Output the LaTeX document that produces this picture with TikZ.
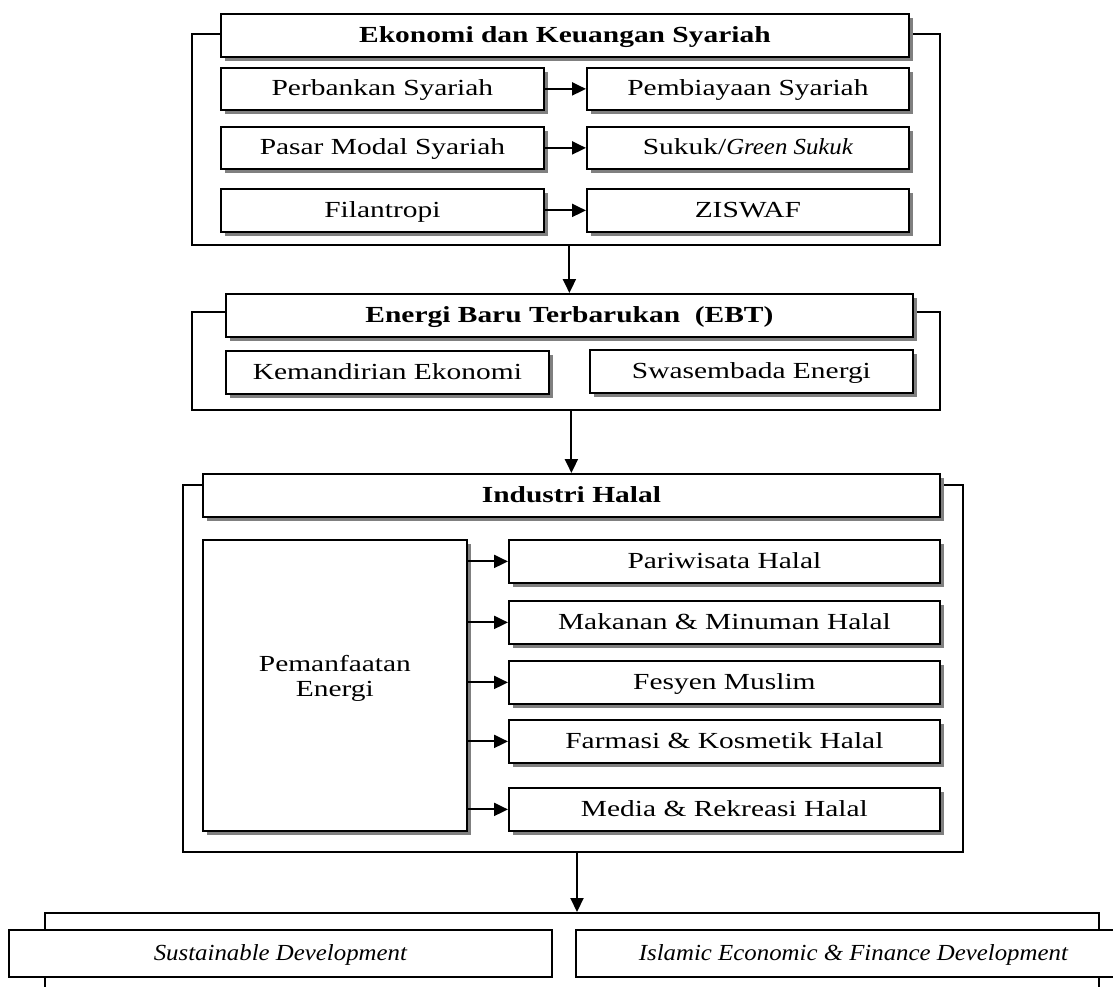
\documentclass[tikz,border=0pt]{standalone}
\usepackage{fontspec}
\setmainfont{Liberation Serif}[FakeStretch=1.28]
\newfontfamily\itfont{Liberation Serif}[FakeStretch=1.08]
\usetikzlibrary{arrows.meta,shadows}
\definecolor{shadowgray}{HTML}{808080}
\begin{document}
\begin{tikzpicture}[x=1pt,y=-1pt,
  box/.style={draw, line width=1.8pt, fill=white, rectangle, inner sep=0pt,
    anchor=north west, font=\fontsize{23}{25}\selectfont, align=center,
    text height=17pt, text depth=3pt,
    drop shadow={shadow xshift=4pt, shadow yshift=-4pt, fill=shadowgray, opacity=1}},
  titlebox/.style={box, font=\fontsize{23}{25}\selectfont\bfseries},
  bigbox/.style={box, text height=, text depth=},
  plainbox/.style={draw, line width=1.8pt, fill=white, rectangle, inner sep=0pt,
    anchor=north west, font=\fontsize{23}{25}\selectfont\itfont\itshape,
    text height=17pt, text depth=3pt},
  frame/.style={draw, line width=2pt, rectangle, inner sep=0pt, anchor=north west},
  arr/.style={line width=2pt, -{Triangle[length=14pt,width=13pt]}}
]
\useasboundingbox (0,0) rectangle (1113,986);
\clip (0,0) rectangle (1113,986);

% ---------- Block 1 ----------
\node[frame, minimum width=748pt, minimum height=211pt] (f1) at (191,33) {};
\node[titlebox, minimum width=688pt, minimum height=43pt] (t1) at (220,13) {Ekonomi dan Keuangan Syariah};
\node[box, minimum width=323pt, minimum height=42pt] (a1) at (220,67) {Perbankan Syariah};
\node[box, minimum width=322pt, minimum height=42pt] (b1) at (586,67) {Pembiayaan Syariah};
\node[box, minimum width=323pt, minimum height=42pt] (a2) at (220,126) {Pasar Modal Syariah};
\node[box, minimum width=322pt, minimum height=42pt] (b2) at (586,126) {Sukuk/{\itfont\itshape Green Sukuk}};
\node[box, minimum width=323pt, minimum height=43pt] (a3) at (220,188) {Filantropi};
\node[box, minimum width=322pt, minimum height=43pt] (b3) at (586,188) {ZISWAF};
\draw[arr] (a1.east) -- (a1.east -| b1.west);
\draw[arr] (a2.east) -- (a2.east -| b2.west);
\draw[arr] (a3.east) -- (a3.east -| b3.west);

% ---------- Block 2 ----------
\node[frame, minimum width=748pt, minimum height=98pt] (f2) at (191,311) {};
\node[titlebox, minimum width=687pt, minimum height=43pt] (t2) at (225,293) {Energi Baru Terbarukan\ \ (EBT)};
\node[box, minimum width=323pt, minimum height=43pt] (k1) at (225,350) {Kemandirian Ekonomi};
\node[box, minimum width=323pt, minimum height=43pt] (k2) at (589,349) {Swasembada Energi};
\draw[arr] (t2.north |- f1.south) -- (t2.north);

% ---------- Block 3 ----------
\node[frame, minimum width=780pt, minimum height=367pt] (f3) at (182,484) {};
\node[titlebox, minimum width=737pt, minimum height=43pt] (t3) at (202,473) {Industri Halal};
\node[bigbox, minimum width=264pt, minimum height=291pt] (pem) at (202,539) {Pemanfaatan\\Energi\\[-5pt]};
\node[box, minimum width=431pt, minimum height=43pt] (h1) at (508,539) {Pariwisata Halal};
\node[box, minimum width=431pt, minimum height=43pt] (h2) at (508,600) {Makanan \& Minuman Halal};
\node[box, minimum width=431pt, minimum height=43pt] (h3) at (508,660) {Fesyen Muslim};
\node[box, minimum width=431pt, minimum height=43pt] (h4) at (508,719) {Farmasi \& Kosmetik Halal};
\node[box, minimum width=431pt, minimum height=43pt] (h5) at (508,787) {Media \& Rekreasi Halal};
\draw[arr] (t3.north |- f2.south) -- (t3.north);
\foreach \h in {h1,h2,h3,h4,h5}{
  \draw[arr] (pem.east |- \h.west) -- (\h.west);
}

% ---------- Block 4 ----------
\node[frame, minimum width=1054pt, minimum height=100pt] (f4) at (44,912) {};
\node[plainbox, minimum width=543pt, minimum height=47pt] (s1) at (8,929) {Sustainable Development};
\node[plainbox, minimum width=555pt, minimum height=47pt] (s2) at (575,929) {Islamic Economic \& Finance Development};
\draw[arr] (f3.south) ++(4,0) coordinate (c3) -- (c3 |- f4.north);
\end{tikzpicture}
\end{document}
